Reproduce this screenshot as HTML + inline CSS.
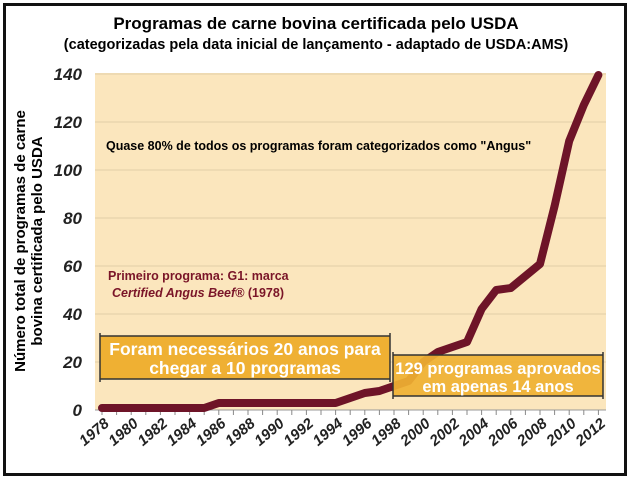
<!DOCTYPE html>
<html><head><meta charset="utf-8"><style>
body{margin:0;background:#fff;}
</style></head><body>
<svg width="631" height="480" xmlns="http://www.w3.org/2000/svg" style="display:block;font-family:'Liberation Sans',sans-serif">
<rect x="0" y="0" width="631" height="480" fill="#fff"/>
<rect x="4.5" y="4.5" width="621" height="470" fill="none" stroke="#111" stroke-width="3"/>
<text x="316" y="29" text-anchor="middle" font-size="17" font-weight="bold">Programas de carne bovina certificada pelo USDA</text>
<text x="316" y="49" text-anchor="middle" font-size="14.5" font-weight="bold">(categorizadas pela data inicial de lançamento - adaptado de USDA:AMS)</text>
<rect x="95" y="73" width="511" height="337" fill="#fbe6bd"/>
<g stroke="#e2cfa6" stroke-width="1">
<line x1="95" y1="362" x2="606" y2="362"/><line x1="95" y1="314" x2="606" y2="314"/><line x1="95" y1="266" x2="606" y2="266"/><line x1="95" y1="218" x2="606" y2="218"/><line x1="95" y1="170" x2="606" y2="170"/><line x1="95" y1="122" x2="606" y2="122"/><line x1="95" y1="74" x2="606" y2="74"/>
</g>
<line x1="95" y1="410" x2="606" y2="410" stroke="#999" stroke-width="1"/>
<g font-size="17" font-weight="bold" font-style="italic" text-anchor="end" fill="#222">
<text x="82" y="416">0</text><text x="82" y="368">20</text><text x="82" y="320">40</text><text x="82" y="272">60</text><text x="82" y="224">80</text><text x="82" y="176">100</text><text x="82" y="128">120</text><text x="82" y="80">140</text>
</g>
<g id="ticks" stroke="#888" stroke-width="1"></g>
<g font-size="15" font-weight="bold" font-style="italic" fill="#222" id="xl"></g>
<text transform="translate(25,241) rotate(-90)" text-anchor="middle" font-size="15" font-weight="bold">Número total de programas de carne</text>
<text transform="translate(42,241) rotate(-90)" text-anchor="middle" font-size="15" font-weight="bold">bovina certificada pelo USDA</text>
<text x="106" y="150" font-size="12.5" font-weight="bold">Quase 80% de todos os programas foram categorizados como "Angus"</text>
<text x="108" y="280" font-size="12.5" font-weight="bold" fill="#7a1528">Primeiro programa: G1: marca</text>
<text x="112" y="297" font-size="12.5" font-weight="bold" fill="#7a1528"><tspan font-style="italic">Certified Angus Beef®</tspan> (1978)</text>
<rect x="100" y="336" width="290" height="43" fill="#efb033"/>
<g stroke="#333" stroke-width="1.5"><line x1="100" y1="333" x2="100" y2="382"/><line x1="390" y1="333" x2="390" y2="382"/><line x1="100" y1="336" x2="390" y2="336"/><line x1="100" y1="379" x2="390" y2="379"/></g>
<text x="245" y="355" text-anchor="middle" font-size="17.5" font-weight="bold" fill="#fff">Foram necessários 20 anos para</text>
<text x="245" y="374" text-anchor="middle" font-size="17.5" font-weight="bold" fill="#fff">chegar a 10 programas</text>
<polyline fill="none" stroke="#6e1428" stroke-width="8" stroke-linejoin="round" stroke-linecap="round" points="102,408 116.6,408 131.2,408 145.8,408 160.4,408 175,408 189.6,408 204.2,408 218.8,403 233.4,403 248,403 262.6,403 277.2,403 291.8,403 306.4,403 321,403 335.6,403 350.2,398 364.8,393 379.4,391 394,386 408.6,381 423.2,362 437.8,352 452.4,347 467,342 481.6,309 496.2,290 510.8,288 525.4,276 540,264 554.6,206 569.2,141 583.8,105 598.4,75"/>
<rect x="393" y="355" width="210" height="41" fill="#efb033" opacity="0.93"/>
<g stroke="#333" stroke-width="1.5"><line x1="393" y1="352" x2="393" y2="399"/><line x1="603" y1="352" x2="603" y2="399"/><line x1="393" y1="355" x2="603" y2="355"/><line x1="393" y1="396" x2="603" y2="396"/></g>
<text x="498" y="374" text-anchor="middle" font-size="16.5" font-weight="bold" fill="#fff">129 programas aprovados</text>
<text x="498" y="392" text-anchor="middle" font-size="16.5" font-weight="bold" fill="#fff">em apenas 14 anos</text>
<script>
var t=document.getElementById('ticks'),l=document.getElementById('xl'),ns='http://www.w3.org/2000/svg';
for(var i=0;i<=34;i++){var x=102+i*14.6;var ln=document.createElementNS(ns,'line');ln.setAttribute('x1',x);ln.setAttribute('x2',x);ln.setAttribute('y1',410);ln.setAttribute('y2',415);t.appendChild(ln);
if(i%2==0){var tx=document.createElementNS(ns,'text');tx.setAttribute('transform','translate('+(x+8)+',425) rotate(-40)');tx.setAttribute('text-anchor','end');tx.textContent=1978+i;l.appendChild(tx);}}
</script>
</svg>
</body></html>
